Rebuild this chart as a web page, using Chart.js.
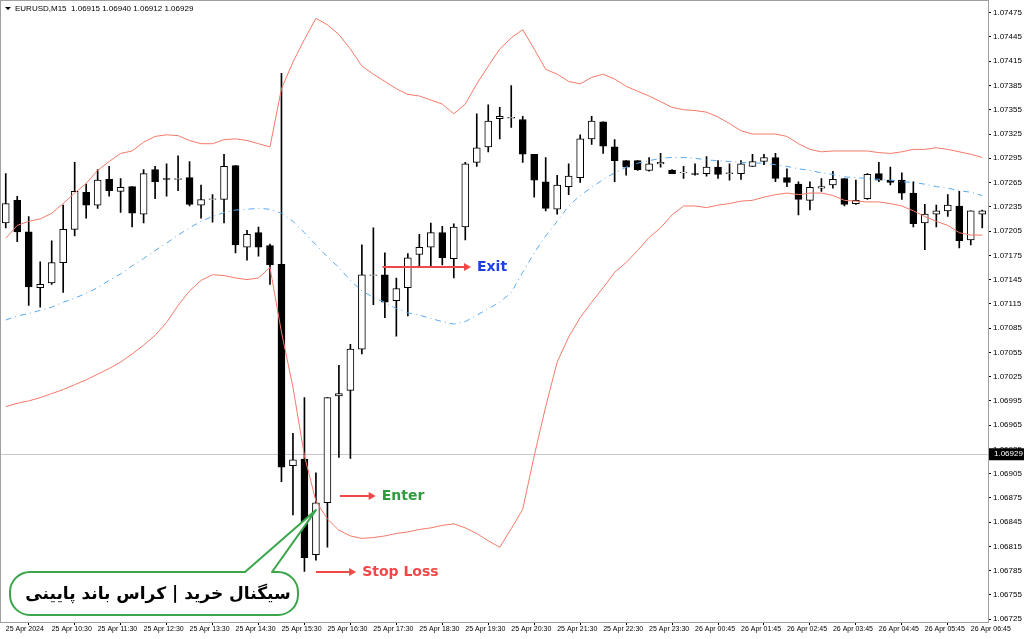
<!DOCTYPE html>
<html>
<head>
<meta charset="utf-8">
<script src="https://cdn.jsdelivr.net/npm/chart.js@4/dist/chart.umd.min.js"></script>
<style>
  html, body { margin: 0; padding: 0; background: #fff; }
  #box { width: 1024px; height: 639px; }
</style>
</head>
<body>
<div id="box"><canvas id="grafico"></canvas></div>
<script>
// EURUSD M15, candles
const abre = [1.07215,1.07243,1.07204,1.07135,1.07141,1.07166,1.07207,1.07253,1.07237,1.07269,1.07254,1.07260,1.07226,1.07281,1.07270,1.07269,1.07271,1.07237,1.07244,1.07244,1.07286,1.07185,1.07203,1.07187,1.07164,1.06915,1.06923,1.06805,1.06869,1.07001,1.07008,1.07059,1.07150,1.07151,1.07119,1.07135,1.07176,1.07185,1.07203,1.07171,1.07210,1.07290,1.07309,1.07344,1.07345,1.07343,1.07300,1.07266,1.07232,1.07260,1.07271,1.07319,1.07340,1.07309,1.07292,1.07292,1.07280,1.07288,1.07280,1.07277,1.07276,1.07276,1.07284,1.07276,1.07276,1.07285,1.07291,1.07296,1.07271,1.07263,1.07243,1.07258,1.07262,1.07270,1.07239,1.07245,1.07276,1.07268,1.07268,1.07252,1.07215,1.07226,1.07230,1.07236,1.07194,1.07226]
const maximas = [1.07276,1.07248,1.07223,1.07167,1.07193,1.07237,1.07290,1.07263,1.07281,1.07285,1.07270,1.07260,1.07281,1.07285,1.07288,1.07298,1.07291,1.07262,1.07250,1.07300,1.07286,1.07206,1.07210,1.07189,1.07400,1.06955,1.06999,1.06906,1.06999,1.07039,1.07065,1.07188,1.07209,1.07178,1.07147,1.07177,1.07201,1.07215,1.07211,1.07214,1.07290,1.07350,1.07361,1.07358,1.07385,1.07347,1.07300,1.07296,1.07274,1.07288,1.07324,1.07347,1.07340,1.07318,1.07292,1.07292,1.07296,1.07301,1.07281,1.07285,1.07288,1.07297,1.07292,1.07288,1.07292,1.07300,1.07300,1.07301,1.07282,1.07266,1.07266,1.07270,1.07279,1.07270,1.07268,1.07276,1.07290,1.07284,1.07277,1.07266,1.07238,1.07237,1.07250,1.07254,1.07230,1.07231]
const minimas = [1.07209,1.07192,1.07113,1.07111,1.07139,1.07129,1.07199,1.07221,1.07233,1.07248,1.07228,1.07210,1.07215,1.07245,1.07248,1.07255,1.07236,1.07221,1.07216,1.07215,1.07178,1.07169,1.07174,1.07139,1.06895,1.06854,1.06784,1.06798,1.06814,1.06925,1.06924,1.07053,1.07114,1.07098,1.07075,1.07100,1.07161,1.07161,1.07163,1.07147,1.07194,1.07285,1.07303,1.07319,1.07333,1.07290,1.07247,1.07230,1.07226,1.07250,1.07265,1.07312,1.07301,1.07266,1.07274,1.07280,1.07279,1.07284,1.07276,1.07270,1.07274,1.07273,1.07270,1.07268,1.07269,1.07285,1.07287,1.07266,1.07260,1.07225,1.07231,1.07254,1.07258,1.07236,1.07238,1.07244,1.07266,1.07262,1.07244,1.07210,1.07182,1.07210,1.07223,1.07184,1.07188,1.07209]
const fecha = [1.07239,1.07204,1.07136,1.07139,1.07166,1.07207,1.07254,1.07237,1.07268,1.07255,1.07259,1.07227,1.07276,1.07266,1.07269,1.07270,1.07238,1.07244,1.07245,1.07285,1.07188,1.07201,1.07185,1.07163,1.06913,1.06922,1.06801,1.06869,1.06999,1.07004,1.07059,1.07151,1.07151,1.07117,1.07134,1.07172,1.07185,1.07203,1.07172,1.07210,1.07288,1.07308,1.07341,1.07347,1.07345,1.07300,1.07268,1.07233,1.07262,1.07273,1.07319,1.07341,1.07310,1.07292,1.07284,1.07281,1.07288,1.07290,1.07276,1.07278,1.07275,1.07284,1.07275,1.07277,1.07288,1.07291,1.07296,1.07270,1.07265,1.07244,1.07259,1.07260,1.07269,1.07238,1.07243,1.07275,1.07268,1.07265,1.07252,1.07214,1.07226,1.07230,1.07237,1.07193,1.07230,1.07230]

// Bollinger bands
const bandaSup = [1.07196,1.07212,1.07217,1.07220,1.07227,1.07239,1.07252,1.07264,1.07280,1.07291,1.07301,1.07304,1.07315,1.07322,1.07324,1.07323,1.07317,1.07313,1.07313,1.07318,1.07319,1.07317,1.07313,1.07309,1.07381,1.07414,1.07442,1.07468,1.07460,1.07448,1.07430,1.07409,1.07399,1.07390,1.07381,1.07374,1.07372,1.07367,1.07362,1.07350,1.07362,1.07387,1.07409,1.07430,1.07444,1.07454,1.07430,1.07405,1.07399,1.07390,1.07387,1.07395,1.07399,1.07393,1.07384,1.07378,1.07372,1.07365,1.07358,1.07355,1.07354,1.07352,1.07346,1.07338,1.07329,1.07325,1.07325,1.07325,1.07322,1.07313,1.07306,1.07303,1.07304,1.07304,1.07304,1.07304,1.07302,1.07301,1.07303,1.07306,1.07306,1.07308,1.07306,1.07303,1.07300,1.07296]
const bandaMed = [1.07095,1.07100,1.07103,1.07107,1.07111,1.07117,1.07122,1.07128,1.07135,1.07144,1.07152,1.07162,1.07171,1.07181,1.07190,1.07200,1.07209,1.07217,1.07223,1.07228,1.07231,1.07232,1.07233,1.07232,1.07227,1.07217,1.07203,1.07188,1.07173,1.07160,1.07144,1.07131,1.07123,1.07117,1.07109,1.07104,1.07101,1.07097,1.07093,1.07090,1.07093,1.07101,1.07109,1.07117,1.07129,1.07154,1.07178,1.07199,1.07217,1.07236,1.07249,1.07259,1.07269,1.07277,1.07284,1.07289,1.07292,1.07295,1.07296,1.07296,1.07295,1.07293,1.07292,1.07291,1.07290,1.07289,1.07289,1.07287,1.07285,1.07282,1.07280,1.07277,1.07275,1.07272,1.07271,1.07270,1.07269,1.07268,1.07266,1.07265,1.07263,1.07260,1.07258,1.07255,1.07253,1.07249]
const bandaInf = [1.06988,1.06992,1.06995,1.06999,1.07004,1.07009,1.07015,1.07021,1.07028,1.07035,1.07043,1.07053,1.07064,1.07076,1.07092,1.07113,1.07131,1.07144,1.07151,1.07150,1.07147,1.07145,1.07147,1.07160,1.07080,1.07012,1.06927,1.06871,1.06849,1.06835,1.06828,1.06825,1.06826,1.06828,1.06831,1.06833,1.06836,1.06838,1.06841,1.06843,1.06838,1.06831,1.06822,1.06814,1.06837,1.06861,1.06927,1.06988,1.07043,1.07074,1.07098,1.07117,1.07135,1.07154,1.07166,1.07181,1.07197,1.07209,1.07225,1.07236,1.07236,1.07234,1.07237,1.07239,1.07242,1.07243,1.07247,1.07250,1.07252,1.07250,1.07252,1.07252,1.07249,1.07243,1.07242,1.07241,1.07241,1.07239,1.07236,1.07230,1.07223,1.07217,1.07212,1.07203,1.07200,1.07200]

// rótulos de tempo (a cada 4 velas)
const rotulosTempo = ["25 Apr 2024","25 Apr 10:30","25 Apr 11:30","25 Apr 12:30","25 Apr 13:30","25 Apr 14:30","25 Apr 15:30","25 Apr 16:30","25 Apr 17:30","25 Apr 18:30","25 Apr 19:30","25 Apr 20:30","25 Apr 21:30","25 Apr 22:30","25 Apr 23:30","26 Apr 00:45","26 Apr 01:45","26 Apr 02:45","26 Apr 03:45","26 Apr 04:45","26 Apr 05:45","26 Apr 06:45"]
const precosEixo = [1.06725,1.06755,1.06785,1.06815,1.06845,1.06875,1.06905,1.06935,1.06965,1.06995,1.07025,1.07055,1.07085,1.07115,1.07145,1.07175,1.07205,1.07235,1.07265,1.07295,1.07325,1.07355,1.07385,1.07415,1.07445,1.07475]
const precoAtual = 1.06929
const cabecalho = "EURUSD,M15  1.06915 1.06940 1.06912 1.06929"

// sinais: [preço, vela inicial, vela final]
const sinalSaida = [1.07160, 32.8, 40.5]
const sinalEntrada = [1.06877, 29.1, 32.2]
const sinalStop = [1.06784, 27.0, 30.5]

const FONTE = "'Liberation Sans', Arial, sans-serif"
const indices = abre.map((_, i) => i)

const corpos = abre.map((o, i) => o === fecha[i] ? [o - 0.000005, o + 0.000005] : [o, fecha[i]])
const pavios = abre.map((_, i) => [minimas[i], maximas[i]])
const corFundo = abre.map((o, i) => fecha[i] >= o ? "#ffffff" : "#000000")

// ================================
// Plugin: cabeçalho, preço atual, setas e balão
// ================================
const extras = {
  id: "extras",
  beforeDatasetsDraw(chart) {
    const { ctx, chartArea: a, scales } = chart
    const y = scales.y.getPixelForValue(precoAtual)
    ctx.save()
    ctx.strokeStyle = "#c8c8c8"
    ctx.lineWidth = 1
    ctx.beginPath()
    ctx.moveTo(a.left, Math.round(y) + 0.5)
    ctx.lineTo(a.right, Math.round(y) + 0.5)
    ctx.stroke()
    // moldura
    ctx.strokeStyle = "#a0a0a0"
    ctx.strokeRect(0.5, 0.5, a.right, a.bottom)
    ctx.restore()
  },
  afterDraw(chart) {
    const { ctx, chartArea: a, scales } = chart
    const passo = (a.right - a.left) / abre.length
    const px = (i) => a.left + passo * (i + 0.5)
    ctx.save()

    // cabeçalho
    ctx.fillStyle = "#000"
    ctx.beginPath()
    ctx.moveTo(5, 7); ctx.lineTo(11, 7); ctx.lineTo(8, 10); ctx.closePath(); ctx.fill()
    ctx.font = "8px " + FONTE
    ctx.textBaseline = "middle"
    ctx.fillText(cabecalho, 15, 9)

    // etiqueta do preço atual
    const yp = scales.y.getPixelForValue(precoAtual)
    ctx.fillStyle = "#000"
    ctx.fillRect(a.right + 1, yp - 6, 1024 - a.right - 1, 12)
    ctx.fillStyle = "#fff"
    ctx.fillText(precoAtual.toFixed(5), a.right + 6, yp)

    // setas
    function seta(sinal, texto, cor) {
      const y = Math.round(scales.y.getPixelForValue(sinal[0]))
      const x1 = px(sinal[1]), x2 = px(sinal[2])
      ctx.strokeStyle = "#f04848"
      ctx.fillStyle = "#f04848"
      ctx.lineWidth = 2
      ctx.beginPath(); ctx.moveTo(x1, y); ctx.lineTo(x2 - 5, y); ctx.stroke()
      ctx.beginPath(); ctx.moveTo(x2, y); ctx.lineTo(x2 - 7, y - 4); ctx.lineTo(x2 - 7, y + 4); ctx.closePath(); ctx.fill()
      ctx.font = "bold 14px 'DejaVu Sans', sans-serif"
      ctx.textBaseline = "middle"
      ctx.textAlign = "left"
      ctx.lineJoin = "round"
      ctx.strokeStyle = "rgba(255,255,255,0.95)"
      ctx.lineWidth = 4
      ctx.strokeText(texto, x2 + 6, y)
      ctx.fillStyle = cor
      ctx.fillText(texto, x2 + 6, y)
    }
    seta(sinalSaida, "Exit", "#1d3fe6")
    seta(sinalEntrada, "Enter", "#2e9c3c")
    seta(sinalStop, "Stop Loss", "#f04848")

    // balão
    const bx = 10, by = 572, bw = 288, bh = 43, r = 20
    const alvoX = px(27), alvoY = scales.y.getPixelForValue(1.06860)
    ctx.beginPath()
    ctx.moveTo(bx + r, by)
    ctx.lineTo(bx + 235, by)
    ctx.lineTo(alvoX, alvoY)
    ctx.lineTo(bx + 262, by)
    ctx.lineTo(bx + bw - r, by)
    ctx.arcTo(bx + bw, by, bx + bw, by + r, r)
    ctx.arcTo(bx + bw, by + bh, bx + bw - r, by + bh, r)
    ctx.lineTo(bx + r, by + bh)
    ctx.arcTo(bx, by + bh, bx, by + bh - r, r)
    ctx.arcTo(bx, by, bx + r, by, r)
    ctx.closePath()
    ctx.fillStyle = "#fff"
    ctx.fill()
    ctx.strokeStyle = "#3aa54a"
    ctx.lineWidth = 2
    ctx.stroke()
    ctx.fillStyle = "#000"
    ctx.font = "bold 17px 'DejaVu Sans', sans-serif"
    ctx.textAlign = "center"
    ctx.direction = "rtl"
    ctx.fillText("سیگنال خرید | کراس باند پایینی", bx + bw / 2 + 4, by + bh / 2 + 1)
    ctx.restore()
  },
}

// ================================
// Gráfico
// ================================
new Chart(document.getElementById("grafico"), {
  type: "bar",
  data: {
    labels: indices,
    datasets: [
      { type: "line", data: bandaSup, borderColor: "#f57a68", borderWidth: 1, pointRadius: 0, tension: 0, order: 0 },
      { type: "line", data: bandaInf, borderColor: "#f57a68", borderWidth: 1, pointRadius: 0, tension: 0, order: 0 },
      { type: "line", data: bandaMed, borderColor: "#5aa9f2", borderWidth: 1, borderDash: [6, 4, 1, 4], pointRadius: 0, tension: 0, order: 0 },
      { data: corpos, backgroundColor: corFundo, borderColor: "#000", borderWidth: 1, borderSkipped: false, barThickness: 7, grouped: false, order: 1 },
      { data: pavios, backgroundColor: "#000", borderWidth: 0, barThickness: 1, grouped: false, order: 2 },
    ],
  },
  options: {
    responsive: true,
    maintainAspectRatio: false,
    animation: false,
    layout: { padding: { top: 2, left: 0, right: 0, bottom: 0 } },
    plugins: { legend: { display: false }, tooltip: { enabled: false } },
    scales: {
      x: {
        type: "category",
        offset: true,
        border: { color: "#808080" },
        grid: { display: true, drawOnChartArea: false, tickLength: 3, color: "#000" },
        afterFit: (s) => { s.height = 17 },
        afterBuildTicks: (s) => { s.ticks = indices.filter((i) => i % 4 === 0).map((i) => ({ value: i })) },
        ticks: {
          autoSkip: false,
          maxRotation: 0,
          align: "start",
          padding: 0,
          color: "#000",
          font: { family: FONTE, size: 7 },
          callback: (v, i) => rotulosTempo[i] || "",
        },
      },
      y: {
        position: "right",
        min: 1.067216,
        max: 1.074823,
        border: { color: "#808080" },
        grid: { display: true, drawOnChartArea: false, tickLength: 3, color: "#000" },
        afterFit: (s) => { s.width = 36 },
        afterBuildTicks: (s) => { s.ticks = precosEixo.map((v) => ({ value: v })) },
        ticks: {
          padding: 2,
          color: "#000",
          font: { family: FONTE, size: 8 },
          callback: (v) => Number(v).toFixed(5),
        },
      },
    },
  },
  plugins: [extras],
})
</script>
</body>
</html>
